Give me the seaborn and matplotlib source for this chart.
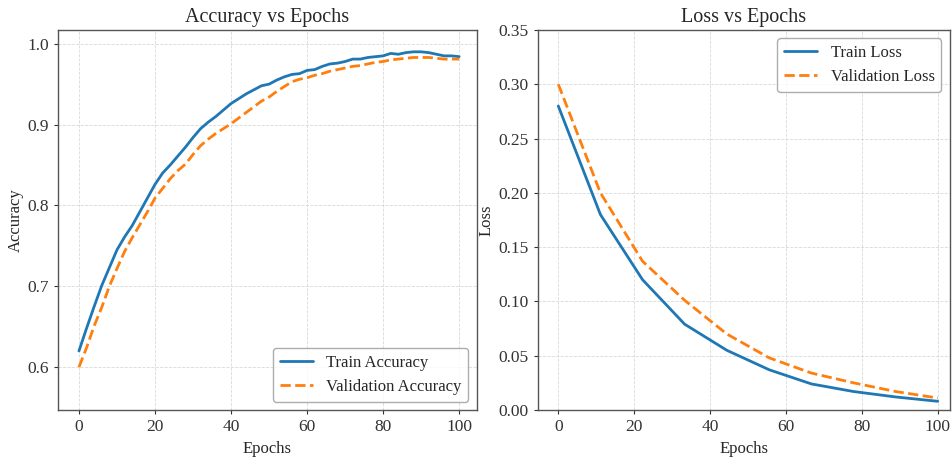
import numpy as np
import pandas as pd
import matplotlib
matplotlib.use("Agg")
import matplotlib.pyplot as plt
import seaborn as sns

# accuracy read at every 2 epochs
acc_epochs = list(range(0, 101, 2))
train_acc = [0.620, 0.648, 0.675, 0.701, 0.723, 0.745, 0.761, 0.775, 0.792, 0.809,
             0.826, 0.840, 0.850, 0.861, 0.872, 0.884, 0.895, 0.903, 0.910, 0.918,
             0.926, 0.932, 0.938, 0.943, 0.948, 0.950, 0.955, 0.959, 0.962, 0.963,
             0.967, 0.968, 0.972, 0.975, 0.976, 0.978, 0.981, 0.981, 0.983, 0.984,
             0.985, 0.988, 0.987, 0.989, 0.990, 0.990, 0.989, 0.987, 0.985, 0.985,
             0.984]
val_acc = [0.600, 0.624, 0.651, 0.674, 0.700, 0.722, 0.743, 0.760, 0.776, 0.792,
           0.809, 0.821, 0.833, 0.843, 0.851, 0.863, 0.874, 0.882, 0.889, 0.895,
           0.901, 0.908, 0.915, 0.922, 0.929, 0.934, 0.941, 0.947, 0.953, 0.956,
           0.958, 0.961, 0.963, 0.966, 0.968, 0.970, 0.972, 0.973, 0.975, 0.977,
           0.978, 0.980, 0.981, 0.982, 0.983, 0.983, 0.983, 0.982, 0.981, 0.981,
           0.981]

# loss has only 10 points
loss_epochs = [0, 11.1, 22.2, 33.3, 44.4, 55.6, 66.7, 77.8, 88.9, 100]
train_loss = [0.280, 0.180, 0.120, 0.079, 0.055, 0.037, 0.024, 0.017, 0.012, 0.008]
val_loss = [0.300, 0.200, 0.137, 0.101, 0.070, 0.048, 0.034, 0.025, 0.017, 0.011]

sns.set_style("whitegrid", {"grid.linestyle": "--", "grid.color": "#d9d9d9",
                            "axes.edgecolor": "#555555"})
plt.rcParams['font.family'] = ['Liberation Serif', 'DejaVu Serif']
plt.rcParams['xtick.bottom'] = True
plt.rcParams['ytick.left'] = True

blue = '#1f77b4'
orange = '#ff7f0e'

fig = plt.figure(figsize=(9.52, 4.62), dpi=100)
ax1 = fig.add_axes([0.0612, 0.1126, 0.4395, 0.8225])
ax2 = fig.add_axes([0.5648, 0.1126, 0.4326, 0.8225])

sns.lineplot(x=acc_epochs, y=train_acc, ax=ax1, color=blue, linewidth=2,
             label='Train Accuracy')
sns.lineplot(x=acc_epochs, y=val_acc, ax=ax1, color=orange, linewidth=2,
             linestyle='--', label='Validation Accuracy')
ax1.set_xlim(-5.44, 104.6)
ax1.set_ylim(0.547, 1.017)
ax1.set_yticks([0.6, 0.7, 0.8, 0.9, 1.0])
ax1.set_title('Accuracy vs Epochs', fontsize=14.5)
ax1.set_xlabel('Epochs', fontsize=12)
ax1.set_ylabel('Accuracy', fontsize=12, labelpad=3)
ax1.legend(loc='lower right', fontsize=12, edgecolor='#999999')

sns.lineplot(x=loss_epochs, y=train_loss, ax=ax2, color=blue, linewidth=2,
             label='Train Loss')
sns.lineplot(x=loss_epochs, y=val_loss, ax=ax2, color=orange, linewidth=2,
             linestyle='--', label='Validation Loss')
ax2.set_xlim(-5.43, 103.1)
ax2.set_ylim(0, 0.35)
ax2.set_yticks(np.arange(0, 0.351, 0.05))
ax2.set_title('Loss vs Epochs', fontsize=14.5)
ax2.set_xlabel('Epochs', fontsize=12)
ax2.set_ylabel('Loss', fontsize=12, labelpad=3)
ax2.legend(loc='upper right', fontsize=12, edgecolor='#999999')

for ax in (ax1, ax2):
    ax.set_xticks([0, 20, 40, 60, 80, 100])
    ax.tick_params(labelsize=12.5, colors='#333333', length=3)
    ax.grid(True, linestyle='--', linewidth=0.6, color='#d9d9d9')
    for s in ax.spines.values():
        s.set_color('#555555')
        s.set_linewidth(1.0)

fig.savefig('out.png', dpi=100)
